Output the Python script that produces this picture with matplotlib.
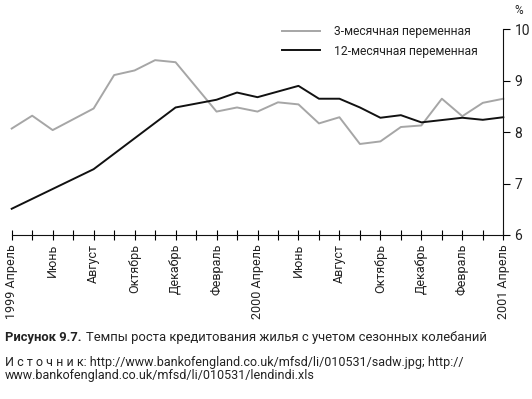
import matplotlib
matplotlib.use("Agg")
import matplotlib.pyplot as plt

plt.rcParams["font.family"] = ["Roboto", "DejaVu Sans"]

# ── Data ─────────────────────────────────────────────────────────────────
MONTHS = [
    "1999-04", "1999-05", "1999-06", "1999-07", "1999-08", "1999-09",
    "1999-10", "1999-11", "1999-12", "2000-01", "2000-02", "2000-03",
    "2000-04", "2000-05", "2000-06", "2000-07", "2000-08", "2000-09",
    "2000-10", "2000-11", "2000-12", "2001-01", "2001-02", "2001-03",
    "2001-04",
]
TICK_LABELS = [
    "1999 Апрель", "", "Июнь", "", "Август", "", "Октябрь", "", "Декабрь", "",
    "Февраль", "", "2000 Апрель", "", "Июнь", "", "Август", "", "Октябрь", "",
    "Декабрь", "", "Февраль", "", "2001 Апрель",
]

M3_MONTHS = [
    "1999-04", "1999-05", "1999-06", "1999-08", "1999-09", "1999-10",
    "1999-11", "1999-12", "2000-02", "2000-03", "2000-04", "2000-05",
    "2000-06", "2000-07", "2000-08", "2000-09", "2000-10", "2000-11",
    "2000-12", "2001-01", "2001-02", "2001-03", "2001-04",
]
M3_VALUES = [
    8.07, 8.32, 8.04, 8.46, 9.11, 9.20,
    9.40, 9.36, 8.40, 8.48, 8.40, 8.58,
    8.54, 8.17, 8.29, 7.77, 7.82, 8.10,
    8.13, 8.65, 8.31, 8.57, 8.65,
]

M12_MONTHS = [
    "1999-04", "1999-08", "1999-12", "2000-02", "2000-03", "2000-04",
    "2000-06", "2000-07", "2000-08", "2000-09", "2000-10", "2000-11",
    "2000-12", "2001-02", "2001-03", "2001-04",
]
M12_VALUES = [
    6.51, 7.28, 8.48, 8.63, 8.77, 8.68,
    8.90, 8.65, 8.65, 8.48, 8.28, 8.33,
    8.19, 8.28, 8.24, 8.29,
]

W, H = 532, 399

fig = plt.figure(figsize=(W / 100, H / 100), dpi=100)
fig.patch.set_facecolor("white")
ax = fig.add_axes([11.7 / W, 164 / H, (503.3 - 11.7) / W, (235 - 29.3) / H])

x3 = [MONTHS.index(m) for m in M3_MONTHS]
x12 = [MONTHS.index(m) for m in M12_MONTHS]

ax.plot(x3, M3_VALUES, color="#a6a6a6", lw=1.4, clip_on=False,
        label="3-месячная переменная")
ax.plot(x12, M12_VALUES, color="#111111", lw=1.4, clip_on=False,
        label="12-месячная переменная")

# ── Axes ─────────────────────────────────────────────────────────────────
ax.set_xlim(0, len(MONTHS) - 1)
ax.set_ylim(6, 10)
ax.set_yticks([6, 7, 8, 9, 10])
ax.yaxis.tick_right()
ax.set_xticks(range(len(MONTHS)))
ax.set_xticklabels(TICK_LABELS, rotation=90, fontsize=9, color="#222222")

for sp in ("left", "top"):
    ax.spines[sp].set_visible(False)
for sp in ("right", "bottom"):
    ax.spines[sp].set_linewidth(0.8)
    ax.spines[sp].set_color("#111111")

ax.tick_params(axis="x", direction="inout", length=7, width=0.8, pad=3)
ax.tick_params(axis="y", direction="out", length=5, width=0.8,
               labelsize=10, pad=3, labelcolor="#222222")

fig.text(519 / W, 1 - 11 / H, "%", ha="center", va="center",
         fontsize=8.5, color="#222222")

ax.legend(loc="upper left", bbox_to_anchor=(281.7 / W, 1 - 25.5 / H),
          bbox_transform=fig.transFigure, frameon=False, fontsize=8.7,
          handlelength=3.2, handletextpad=1.1, labelspacing=0.5,
          borderpad=0, borderaxespad=0, labelcolor="#222222")

# ── Caption ──────────────────────────────────────────────────────────────
cap_y = 1 - 338 / H
t1 = fig.text(5 / W, cap_y, "Рисунок 9.7.", fontsize=9.4, fontweight="bold",
              va="center", color="#222222")
fig.canvas.draw()
bb = t1.get_window_extent(fig.canvas.get_renderer())
fig.text((bb.x1 + 4) / W, cap_y,
         "Темпы роста кредитования жилья с учетом сезонных колебаний",
         fontsize=9.4, va="center", color="#222222")

fig.text(5 / W, 1 - 362.5 / H,
         "И с т о ч н и к: http://www.bankofengland.co.uk/mfsd/li/010531/sadw.jpg; http://",
         fontsize=9, va="center", color="#222222")
fig.text(5 / W, 1 - 375.5 / H,
         "www.bankofengland.co.uk/mfsd/li/010531/lendindi.xls",
         fontsize=9, va="center", color="#222222")

fig.savefig("out.png", dpi=100, facecolor=fig.get_facecolor())
plt.close(fig)
